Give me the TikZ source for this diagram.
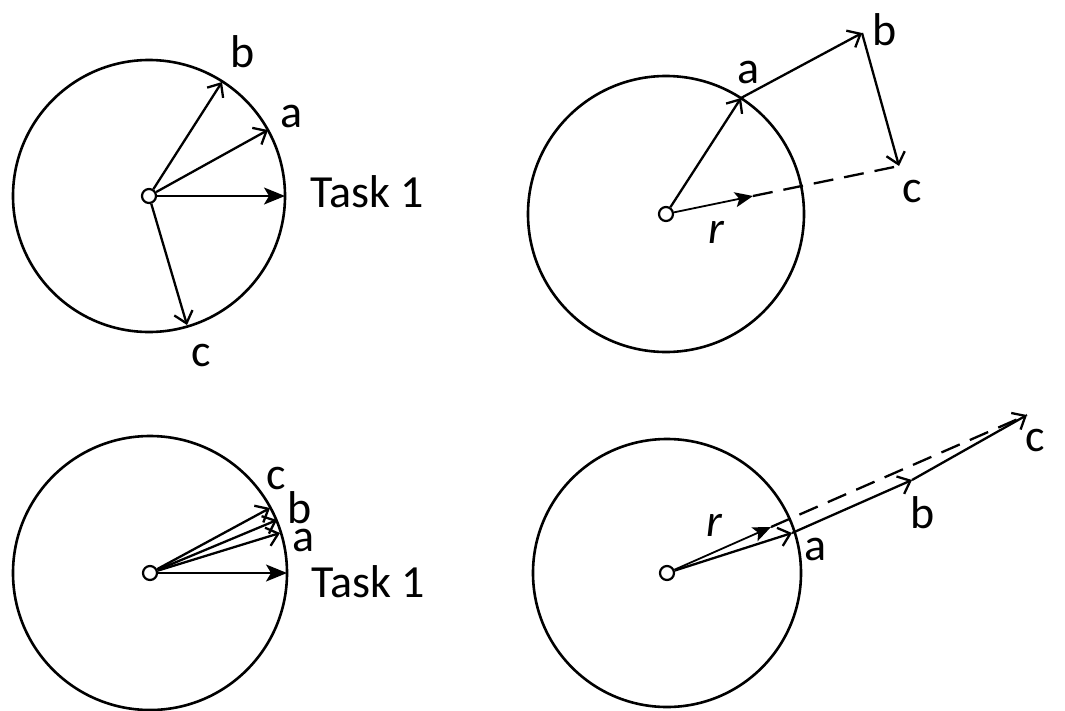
\documentclass[tikz,border=0pt]{standalone}
\usepackage{fontspec}
\setmainfont{Carlito}
\usetikzlibrary{arrows.meta}
\begin{document}
\begin{tikzpicture}[x=1pt,y=-1pt,
  big/.style={draw, circle, line width=2.6pt, inner sep=0pt},
  hub/.style={draw, circle, line width=2.2pt, minimum size=14pt, inner sep=0pt},
  vec/.style={line width=2.3pt, -{Straight Barb[length=11pt,width=19pt,line width=2.3pt]}},
  task/.style={line width=1.8pt, -{Stealth[length=21pt,width=17pt,inset=5pt]}},
  rvec/.style={line width=1.8pt, -{Stealth[length=18pt,width=15pt,inset=4pt]}},
  dsh/.style={line width=2.3pt, dash pattern=on 20pt off 11pt},
  lbl/.style={font=\fontsize{46}{46}\selectfont, inner sep=0pt},
  ilbl/.style={font=\fontsize{46}{46}\selectfont\itshape, inner sep=0pt},
]
\path[use as bounding box] (0,0) rectangle (1065,710);

% ---------- Panel 1 (top left) ----------
\node[big, minimum size=272pt] (C1) at (149,196) {};
\node[hub] (o1) at (149,196) {};
\coordinate (t1) at (285,196);
\coordinate (a1) at (268,130);
\coordinate (b1) at (222,82);
\coordinate (c1) at (187,325);
\draw[task] (o1) -- (t1);
\draw[vec] (o1) -- (a1);
\draw[vec] (o1) -- (b1);
\draw[vec] (o1) -- (c1);
\node[lbl] (Lb1) at (243,52) {b};
\node[lbl] (La1) at (292,116) {a};
\node[lbl] (Lt1) at (367,192) {Task 1};
\node[lbl] (Lc1) at (201,355) {c};

% ---------- Panel 2 (top right) ----------
\node[big, minimum size=276pt] (C2) at (666,214) {};
\node[hub] (o2) at (666,214) {};
\coordinate (a2) at (741,98);
\coordinate (b2) at (862,33);
\coordinate (c2) at (899,166);
\coordinate (r2) at (753,196);
\draw[dsh] (r2) -- (c2);
\draw[rvec] (o2) -- (r2);
\draw[vec] (o2) -- (a2);
\draw[vec] (a2) -- (b2);
\draw[vec] (b2) -- (c2);
\node[lbl] (La2) at (749,72) {a};
\node[lbl] (Lb2) at (885,30) {b};
\node[lbl] (Lc2) at (912,191) {c};
\node[ilbl] (Lr2) at (716,232) {r};

% ---------- Panel 3 (bottom left) ----------
\node[big, minimum size=274pt] (C3) at (150,573) {};
\node[hub] (o3) at (150,573) {};
\coordinate (t3) at (287,573);
\coordinate (a3) at (280,533);
\coordinate (b3) at (277,520);
\coordinate (c3) at (270,508);
\draw[task] (o3) -- (t3);
\draw[vec] (o3) -- (a3);
\draw[vec] (o3) -- (b3);
\draw[vec] (o3) -- (c3);
\node[lbl] (Lc3) at (276,478) {c};
\node[lbl] (Lb3) at (300,508) {b};
\node[lbl] (La3) at (304,540) {a};
\node[lbl] (Lt3) at (368,582) {Task 1};

% ---------- Panel 4 (bottom right) ----------
\node[big, minimum size=268pt] (C4) at (667,573) {};
\node[hub] (o4) at (667,573) {};
\coordinate (a4) at (792,533);
\coordinate (b4) at (912,480);
\coordinate (c4) at (1027,415);
\coordinate (r4) at (771,527);
\draw[dsh] (r4) -- (c4);
\draw[rvec] (o4) -- (r4);
\draw[vec] (o4) -- (a4);
\draw[vec] (a4) -- (b4);
\draw[vec] (b4) -- (c4);
\node[ilbl] (Lr4) at (714,525) {r};
\node[lbl] (La4) at (816,549) {a};
\node[lbl] (Lb4) at (923,513) {b};
\node[lbl] (Lc4) at (1035,440) {c};
\end{tikzpicture}
\end{document}
